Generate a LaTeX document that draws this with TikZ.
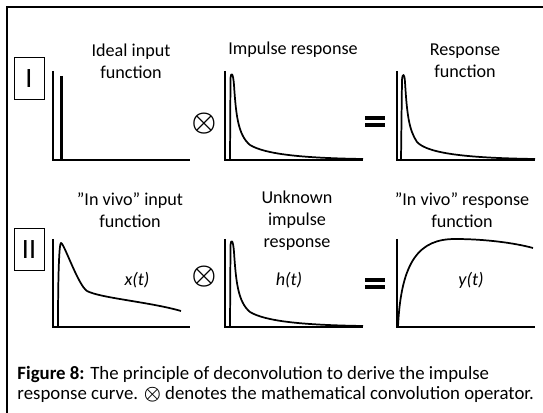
\documentclass[tikz,border=0pt]{standalone}
\usepackage{fontspec}
\setmainfont{Carlito}

\tikzset{every picture/.style={line width=0.75pt}}

\begin{document}
\begin{tikzpicture}[x=0.75pt,y=0.75pt,yscale=-1,xscale=1,
	axis/.style={line width=1.5pt,line join=miter},
	curve/.style={line width=1.3pt,line join=round},
	heading/.style={inner sep=0.75pt,align=center,font=\fontsize{13.6}{16.5}\selectfont},
	fname/.style={inner sep=0.75pt,font=\fontsize{13.6}{16}\selectfont\itshape},
	rowbox/.style={draw,line width=0.75pt,minimum width=22.5pt,minimum height=31.5pt,inner sep=0pt,font=\fontsize{21}{24}\selectfont},
	convop/.style={inner sep=0pt,font=\fontsize{21}{24}\selectfont\boldmath}]
				\useasboundingbox (0,0) rectangle (543,413);
				
				%Frame
				\draw  [line width=1.5pt]  (7,420) -- (7,7) -- (550,7) ;
				
				%Straight Lines (axes, row I)
				\draw  [axis]  (53,71) -- (53,160) -- (190,160) ;
				\draw  [axis]  (225,71) -- (225,160) -- (363,160) ;
				\draw  [axis]  (397,71) -- (397,160) -- (535,160) ;
				%Straight Lines (axes, row II)
				\draw  [axis]  (53,239) -- (53,327) -- (190,327) ;
				\draw  [axis]  (225,239) -- (225,327) -- (363,327) ;
				\draw  [axis]  (397,239) -- (397,327) -- (535,327) ;
				
				%Straight Lines (ideal input)
				\draw  [line width=2.25pt]  (61,76) -- (61,160) ;
				%Curve Lines (impulse response)
				\draw  [curve]  (230,160) -- (230.5,78) .. controls (231,72) and (233,72) .. (234,85) .. controls (236,115) and (238,135) .. (250,145) .. controls (265,154) and (300,158) .. (363,159) ;
				%Curve Lines (response function)
				\draw  [curve]  (401,160) -- (402,80) .. controls (402.5,73) and (404.5,73) .. (405,82) .. controls (407,115) and (409,130) .. (417,142) .. controls (428,154) and (470,158) .. (535,159) ;
				
				%Curve Lines (in vivo input)
				\draw  [curve]  (58,326) .. controls (58,280) and (59,243) .. (61,243) .. controls (64,243) and (78,285) .. (87,291) .. controls (100,298) and (150,302) .. (181,311) ;
				%Curve Lines (unknown impulse response)
				\draw  [curve]  (230,327) -- (230.5,245) .. controls (231,239) and (233,239) .. (234,252) .. controls (236,282) and (238,302) .. (250,312) .. controls (265,321) and (300,325) .. (363,326) ;
				%Curve Lines (in vivo response)
				\draw  [curve]  (398,327) .. controls (401,260) and (420,239) .. (455,239) .. controls (485,239) and (515,243) .. (533,248) ;
				
				%Equal signs
				\fill  (365,116) rectangle (385,120) ;
				\fill  (365,123) rectangle (385,127) ;
				\fill  (365,278) rectangle (385,282) ;
				\fill  (365,285) rectangle (385,289) ;
				
				% Text Node
				\node [rowbox] (rowI) at (29,79) {I};
				% Text Node
				\node [rowbox] (rowII) at (29,249.5) {II};
				% Text Node
				\node [heading] (ideal) at (131,61) {Ideal input\\function};
				% Text Node
				\node [heading] (impulse) at (293,50) {Impulse response};
				% Text Node
				\node [heading] (response) at (465,61) {Response\\function};
				% Text Node
				\node [heading] (vivoin) at (130,210) {”In vivo” input\\function};
				% Text Node
				\node [heading] (unknown) at (297,220.5) {Unknown\\impulse\\response};
				% Text Node
				\node [heading] (vivoout) at (462,210) {”In vivo” response\\function};
				% Text Node
				\node [fname] (xt) at (137,280) {x(t)};
				% Text Node
				\node [fname] (ht) at (289,280) {h(t)};
				% Text Node
				\node [fname] (yt) at (471,280) {y(t)};
				% Text Node
				\node [convop] (convI) at (204,124) {$\otimes$};
				% Text Node
				\node [convop] (convII) at (204,277) {$\otimes$};
				% Text Node
				\node [anchor=west,inner sep=0.75pt,align=left,font=\fontsize{14.1}{15.5}\selectfont] (caption) at (16,384.5) {\textbf{Figure 8:} The principle of deconvolution to derive the impulse\\response curve. {\boldmath$\otimes$} denotes the mathematical convolution operator.};
				
\end{tikzpicture}
\end{document}
